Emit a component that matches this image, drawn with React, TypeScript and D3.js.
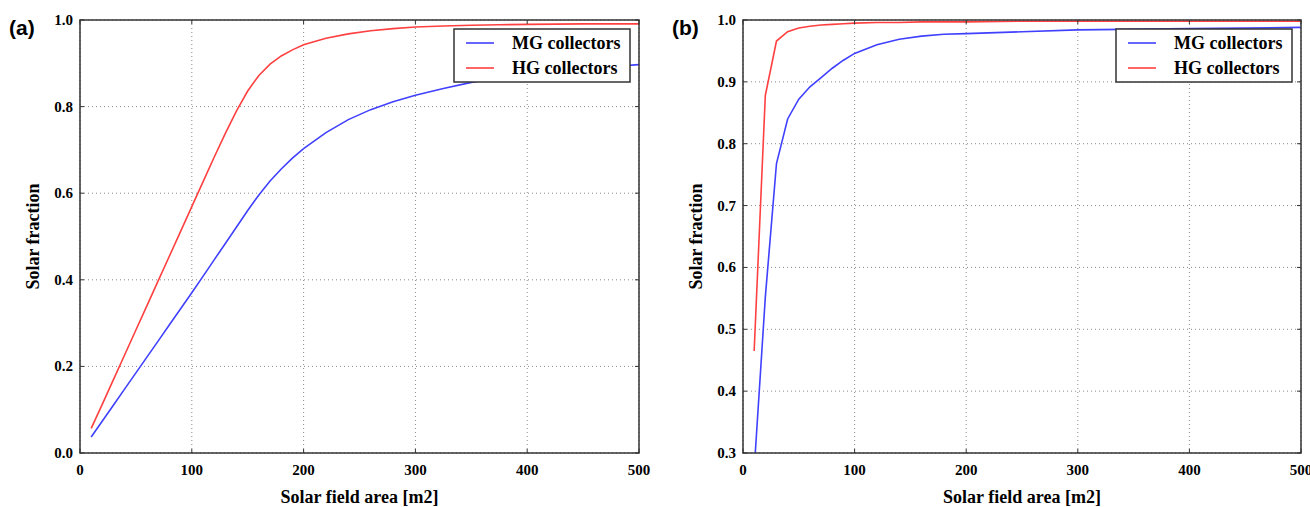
import React, { useEffect, useRef } from "react";
import * as d3 from "d3";

// panel (a)
const areaA = [10, 20, 30, 40, 50, 60, 70, 80, 90, 100, 110, 120, 130, 140, 150, 160, 170, 180, 190, 200, 220, 240, 260, 280, 300, 325, 350, 375, 400, 450, 500];
const mgA = [0.037, 0.074, 0.111, 0.148, 0.185, 0.222, 0.259, 0.296, 0.333, 0.37, 0.408, 0.446, 0.484, 0.522, 0.56, 0.596, 0.628, 0.656, 0.681, 0.703, 0.74, 0.77, 0.793, 0.811, 0.826, 0.842, 0.856, 0.867, 0.876, 0.888, 0.897];
const hgA = [0.057, 0.113, 0.17, 0.227, 0.284, 0.341, 0.398, 0.455, 0.512, 0.569, 0.626, 0.683, 0.738, 0.79, 0.836, 0.872, 0.898, 0.917, 0.931, 0.943, 0.958, 0.968, 0.975, 0.98, 0.984, 0.986, 0.988, 0.989, 0.99, 0.991, 0.991];

// panel (b)
const areaB = [10, 20, 30, 40, 50, 60, 70, 80, 90, 100, 120, 140, 160, 180, 200, 250, 300, 400, 500];
const mgB = [0.272, 0.552, 0.768, 0.84, 0.872, 0.892, 0.907, 0.922, 0.935, 0.946, 0.96, 0.969, 0.974, 0.977, 0.978, 0.981, 0.984, 0.986, 0.988];
const hgB = [0.465, 0.878, 0.966, 0.981, 0.987, 0.99, 0.992, 0.993, 0.994, 0.995, 0.996, 0.996, 0.997, 0.997, 0.997, 0.998, 0.998, 0.998, 0.998];

const xTicks = [0, 100, 200, 300, 400, 500];
const yTicksA = [0, 0.2, 0.4, 0.6, 0.8, 1.0];
const yTicksB = [0.3, 0.4, 0.5, 0.6, 0.7, 0.8, 0.9, 1.0];
const seriesNames = ["MG collectors", "HG collectors"];
const colors = ["#4040ff", "#ff4040"];

const serif = "'Liberation Serif', 'DejaVu Serif', serif";

const App = () => {
  const ref = useRef<SVGSVGElement>(null);

  useEffect(() => {
    const svg = d3.select(ref.current);
    svg.selectAll("*").remove();

    const panels = [
      { id: "a", tag: "(a)", left: 80, right: 639, yDomain: [0, 1], yTicks: yTicksA, x: areaA, mg: mgA, hg: hgA },
      { id: "b", tag: "(b)", left: 743, right: 1301, yDomain: [0.3, 1], yTicks: yTicksB, x: areaB, mg: mgB, hg: hgB },
    ];
    const top = 20;
    const bottom = 453;

    panels.forEach((p) => {
      const x = d3.scaleLinear().domain([0, 500]).range([p.left, p.right]);
      const y = d3.scaleLinear().domain(p.yDomain).range([bottom, top]);
      const g = svg.append("g");

      // clip
      g.append("clipPath")
        .attr("id", "clip-" + p.id)
        .append("rect")
        .attr("x", p.left)
        .attr("y", top)
        .attr("width", p.right - p.left)
        .attr("height", bottom - top);

      // grid
      g.selectAll(".vgrid")
        .data(xTicks)
        .enter()
        .append("line")
        .attr("x1", (d) => x(d))
        .attr("x2", (d) => x(d))
        .attr("y1", top)
        .attr("y2", bottom)
        .attr("stroke", "#8a8a8a")
        .attr("stroke-width", 1)
        .attr("stroke-dasharray", "1,3");
      g.selectAll(".hgrid")
        .data(p.yTicks)
        .enter()
        .append("line")
        .attr("x1", p.left)
        .attr("x2", p.right)
        .attr("y1", (d) => y(d))
        .attr("y2", (d) => y(d))
        .attr("stroke", "#8a8a8a")
        .attr("stroke-width", 1)
        .attr("stroke-dasharray", "1,3");

      // lines
      const line = d3
        .line<[number, number]>()
        .x((d) => x(d[0]))
        .y((d) => y(d[1]));
      [p.mg, p.hg].forEach((vals, i) => {
        g.append("path")
          .datum(p.x.map((a, k) => [a, vals[k]] as [number, number]))
          .attr("clip-path", `url(#clip-${p.id})`)
          .attr("d", line)
          .attr("fill", "none")
          .attr("stroke", colors[i])
          .attr("stroke-width", 1.6);
      });

      // ticks on all four sides, pointing in
      xTicks.forEach((t) => {
        g.append("line").attr("x1", x(t)).attr("x2", x(t)).attr("y1", bottom).attr("y2", bottom - 4).attr("stroke", "#333");
        g.append("line").attr("x1", x(t)).attr("x2", x(t)).attr("y1", top).attr("y2", top + 4).attr("stroke", "#333");
      });
      p.yTicks.forEach((t) => {
        g.append("line").attr("x1", p.left).attr("x2", p.left + 4).attr("y1", y(t)).attr("y2", y(t)).attr("stroke", "#333");
        g.append("line").attr("x1", p.right).attr("x2", p.right - 4).attr("y1", y(t)).attr("y2", y(t)).attr("stroke", "#333");
      });

      // frame
      g.append("rect")
        .attr("x", p.left)
        .attr("y", top)
        .attr("width", p.right - p.left)
        .attr("height", bottom - top)
        .attr("fill", "none")
        .attr("stroke", "#333")
        .attr("stroke-width", 1.5);

      // tick labels
      g.selectAll(".xlab")
        .data(xTicks)
        .enter()
        .append("text")
        .attr("x", (d) => x(d))
        .attr("y", bottom + 22)
        .attr("text-anchor", "middle")
        .style("font-family", serif)
        .style("font-weight", "bold")
        .style("font-size", "15px")
        .text((d) => d3.format("d")(d));
      g.selectAll(".ylab")
        .data(p.yTicks)
        .enter()
        .append("text")
        .attr("x", p.left - 7)
        .attr("y", (d) => y(d) + 5)
        .attr("text-anchor", "end")
        .style("font-family", serif)
        .style("font-weight", "bold")
        .style("font-size", "15px")
        .text((d) => d3.format(".1f")(d));

      // axis titles
      g.append("text")
        .attr("x", (p.left + p.right) / 2)
        .attr("y", 503)
        .attr("text-anchor", "middle")
        .style("font-family", serif)
        .style("font-weight", "bold")
        .style("font-size", "18px")
        .text("Solar field area [m2]");
      g.append("text")
        .attr("transform", `translate(${p.left - 41},${(top + bottom) / 2}) rotate(-90)`)
        .attr("text-anchor", "middle")
        .style("font-family", serif)
        .style("font-weight", "bold")
        .style("font-size", "18px")
        .text("Solar fraction");

      // panel tag
      g.append("text")
        .attr("x", p.left - 71)
        .attr("y", 35)
        .style("font-family", "'Liberation Sans', Arial, sans-serif")
        .style("font-weight", "bold")
        .style("font-size", "21px")
        .text(p.tag);

      // legend
      const lx = p.right - 185;
      const lg = g.append("g").attr("transform", `translate(${lx},29)`);
      lg.append("rect")
        .attr("width", 176)
        .attr("height", 53)
        .attr("fill", "white")
        .attr("stroke", "#333")
        .attr("stroke-width", 1.5);
      seriesNames.forEach((name, i) => {
        const ry = 14 + i * 25;
        lg.append("line")
          .attr("x1", 12)
          .attr("x2", 40)
          .attr("y1", ry)
          .attr("y2", ry)
          .attr("stroke", colors[i])
          .attr("stroke-width", 1.6);
        lg.append("text")
          .attr("x", 58)
          .attr("y", ry + 6)
          .style("font-family", serif)
          .style("font-weight", "bold")
          .style("font-size", "18px")
          .text(name);
      });
    });
  }, []);

  return (
    <svg
      ref={ref}
      width={1310}
      height={507}
      style={{ position: "absolute", left: 0, top: 0, background: "white" }}
    />
  );
};

export default App;
